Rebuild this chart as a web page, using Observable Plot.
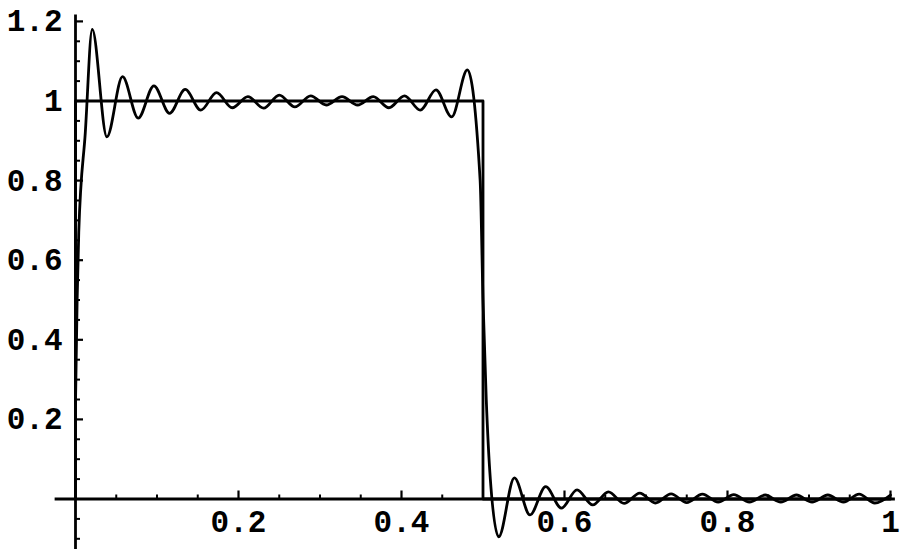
<!DOCTYPE html>
<html>
<head>
<meta charset="utf-8">
<script src="https://cdn.jsdelivr.net/npm/d3@7"></script>
<script src="https://cdn.jsdelivr.net/npm/@observablehq/plot@0.6"></script>
<style>
  html, body { margin: 0; padding: 0; background: white; }
</style>
</head>
<body>
<div id="chart"></div>
<script>
// Partial Fourier sum (extrema and jump points)
const fourierX = [0, 0.002, 0.004, 0.012, 0.0205,
  0.0385, 0.0577, 0.0769, 0.0962, 0.1154, 0.1346, 0.1538, 0.1731, 0.1923, 0.2115,
  0.2308, 0.25, 0.2692, 0.2885, 0.3077, 0.327, 0.3462, 0.3654, 0.3846, 0.4038,
  0.4231, 0.4423, 0.4615, 0.4808,
  0.4965, 0.5, 0.504, 0.509,
  0.5192, 0.5385, 0.5577, 0.5769, 0.5962, 0.6154, 0.6346, 0.6538, 0.6731, 0.6923,
  0.7115, 0.7308, 0.75, 0.7692, 0.7885, 0.8077, 0.8269, 0.8462, 0.8654, 0.8846,
  0.9038, 0.9231, 0.9423, 0.9615, 0.9808,
  1];
const fourierY = [0.24, 0.5, 0.67, 0.92, 1.18,
  0.91, 1.061, 0.957, 1.038, 0.969, 1.029, 0.977, 1.021, 0.983, 1.011,
  0.982, 1.015, 0.985, 1.013, 0.99, 1.011, 0.99, 1.011, 0.983, 1.013,
  0.977, 1.028, 0.96, 1.078,
  0.8, 0.5, 0.25, 0.05,
  -0.095, 0.053, -0.04, 0.031, -0.023, 0.023, -0.015, 0.018, -0.011, 0.015,
  -0.01, 0.013, -0.009, 0.012, -0.008, 0.011, -0.008, 0.01, -0.008, 0.01,
  -0.008, 0.01, -0.008, 0.012, -0.01,
  0.01];

// Exact square wave
const stepX = [0, 0, 0.5, 0.5, 1];
const stepY = [0, 1, 1, 0, 0];

// Ticks
const xMajor = [0.2, 0.4, 0.6, 0.8, 1];
const xLabels = ["0.2", "0.4", "0.6", "0.8", "1"];
const xMinor = [0.05, 0.1, 0.15, 0.25, 0.3, 0.35, 0.45, 0.5, 0.55, 0.65, 0.7, 0.75, 0.85, 0.9, 0.95];
const yMajor = [0.2, 0.4, 0.6, 0.8, 1, 1.2];
const yLabels = ["0.2", "0.4", "0.6", "0.8", "1", "1.2"];
const yMinor = [-0.1, -0.05, 0.05, 0.1, 0.15, 0.25, 0.3, 0.35, 0.45, 0.5, 0.55, 0.65, 0.7, 0.75, 0.85, 0.9, 0.95, 1.05, 1.1, 1.15];

// Axis extents
const xAxisExtent = [-0.025, 1.006];
const yAxisExtent = [-0.14, 1.216];

const fourier = fourierX.map((x, i) => ({x, y: fourierY[i]}));
const step = stepX.map((x, i) => ({x, y: stepY[i]}));

const font = {fontFamily: "Liberation Mono", fontSize: 31, fontWeight: "bold", fill: "black"};

const chart = Plot.plot({
  width: 907,
  height: 549,
  margin: 0,
  x: {domain: [0, 1], range: [75, 890], axis: null},
  y: {domain: [0, 1], range: [498.5, 100.5], axis: null},
  style: {background: "white", overflow: "visible"},
  marks: [
    // axes
    Plot.ruleY([0], {x1: xAxisExtent[0], x2: xAxisExtent[1], stroke: "black", strokeWidth: 2.8}),
    Plot.ruleX([0], {y1: yAxisExtent[0], y2: yAxisExtent[1], stroke: "black", strokeWidth: 2.8}),
    // x ticks (pointing up)
    Plot.ruleX(xMinor, {x: d => d, y1: 0, y2: 0, insetBottom: 4, stroke: "black", strokeWidth: 2}),
    Plot.ruleX(xMajor, {x: d => d, y1: 0, y2: 0, insetBottom: 8, stroke: "black", strokeWidth: 2.2}),
    // y ticks (pointing right)
    Plot.ruleY(yMinor, {y: d => d, x1: 0, x2: 0, insetRight: -5, stroke: "black", strokeWidth: 2}),
    Plot.ruleY(yMajor, {y: d => d, x1: 0, x2: 0, insetRight: -8, stroke: "black", strokeWidth: 2.2}),
    // labels
    Plot.text(yMajor, {x: 0, y: d => d, text: (d, i) => yLabels[i], dx: -13, textAnchor: "end", ...font}),
    Plot.text(xMajor, {x: d => d, y: 0, text: (d, i) => xLabels[i], dy: 23, textAnchor: "middle", ...font}),
    // step function
    Plot.line(step, {x: "x", y: "y", stroke: "black", strokeWidth: 2.8}),
    // Fourier partial sum
    Plot.line(fourier, {x: "x", y: "y", curve: "monotone-x", stroke: "black", strokeWidth: 2.8})
  ]
});
document.getElementById("chart").appendChild(chart);
</script>
</body>
</html>
